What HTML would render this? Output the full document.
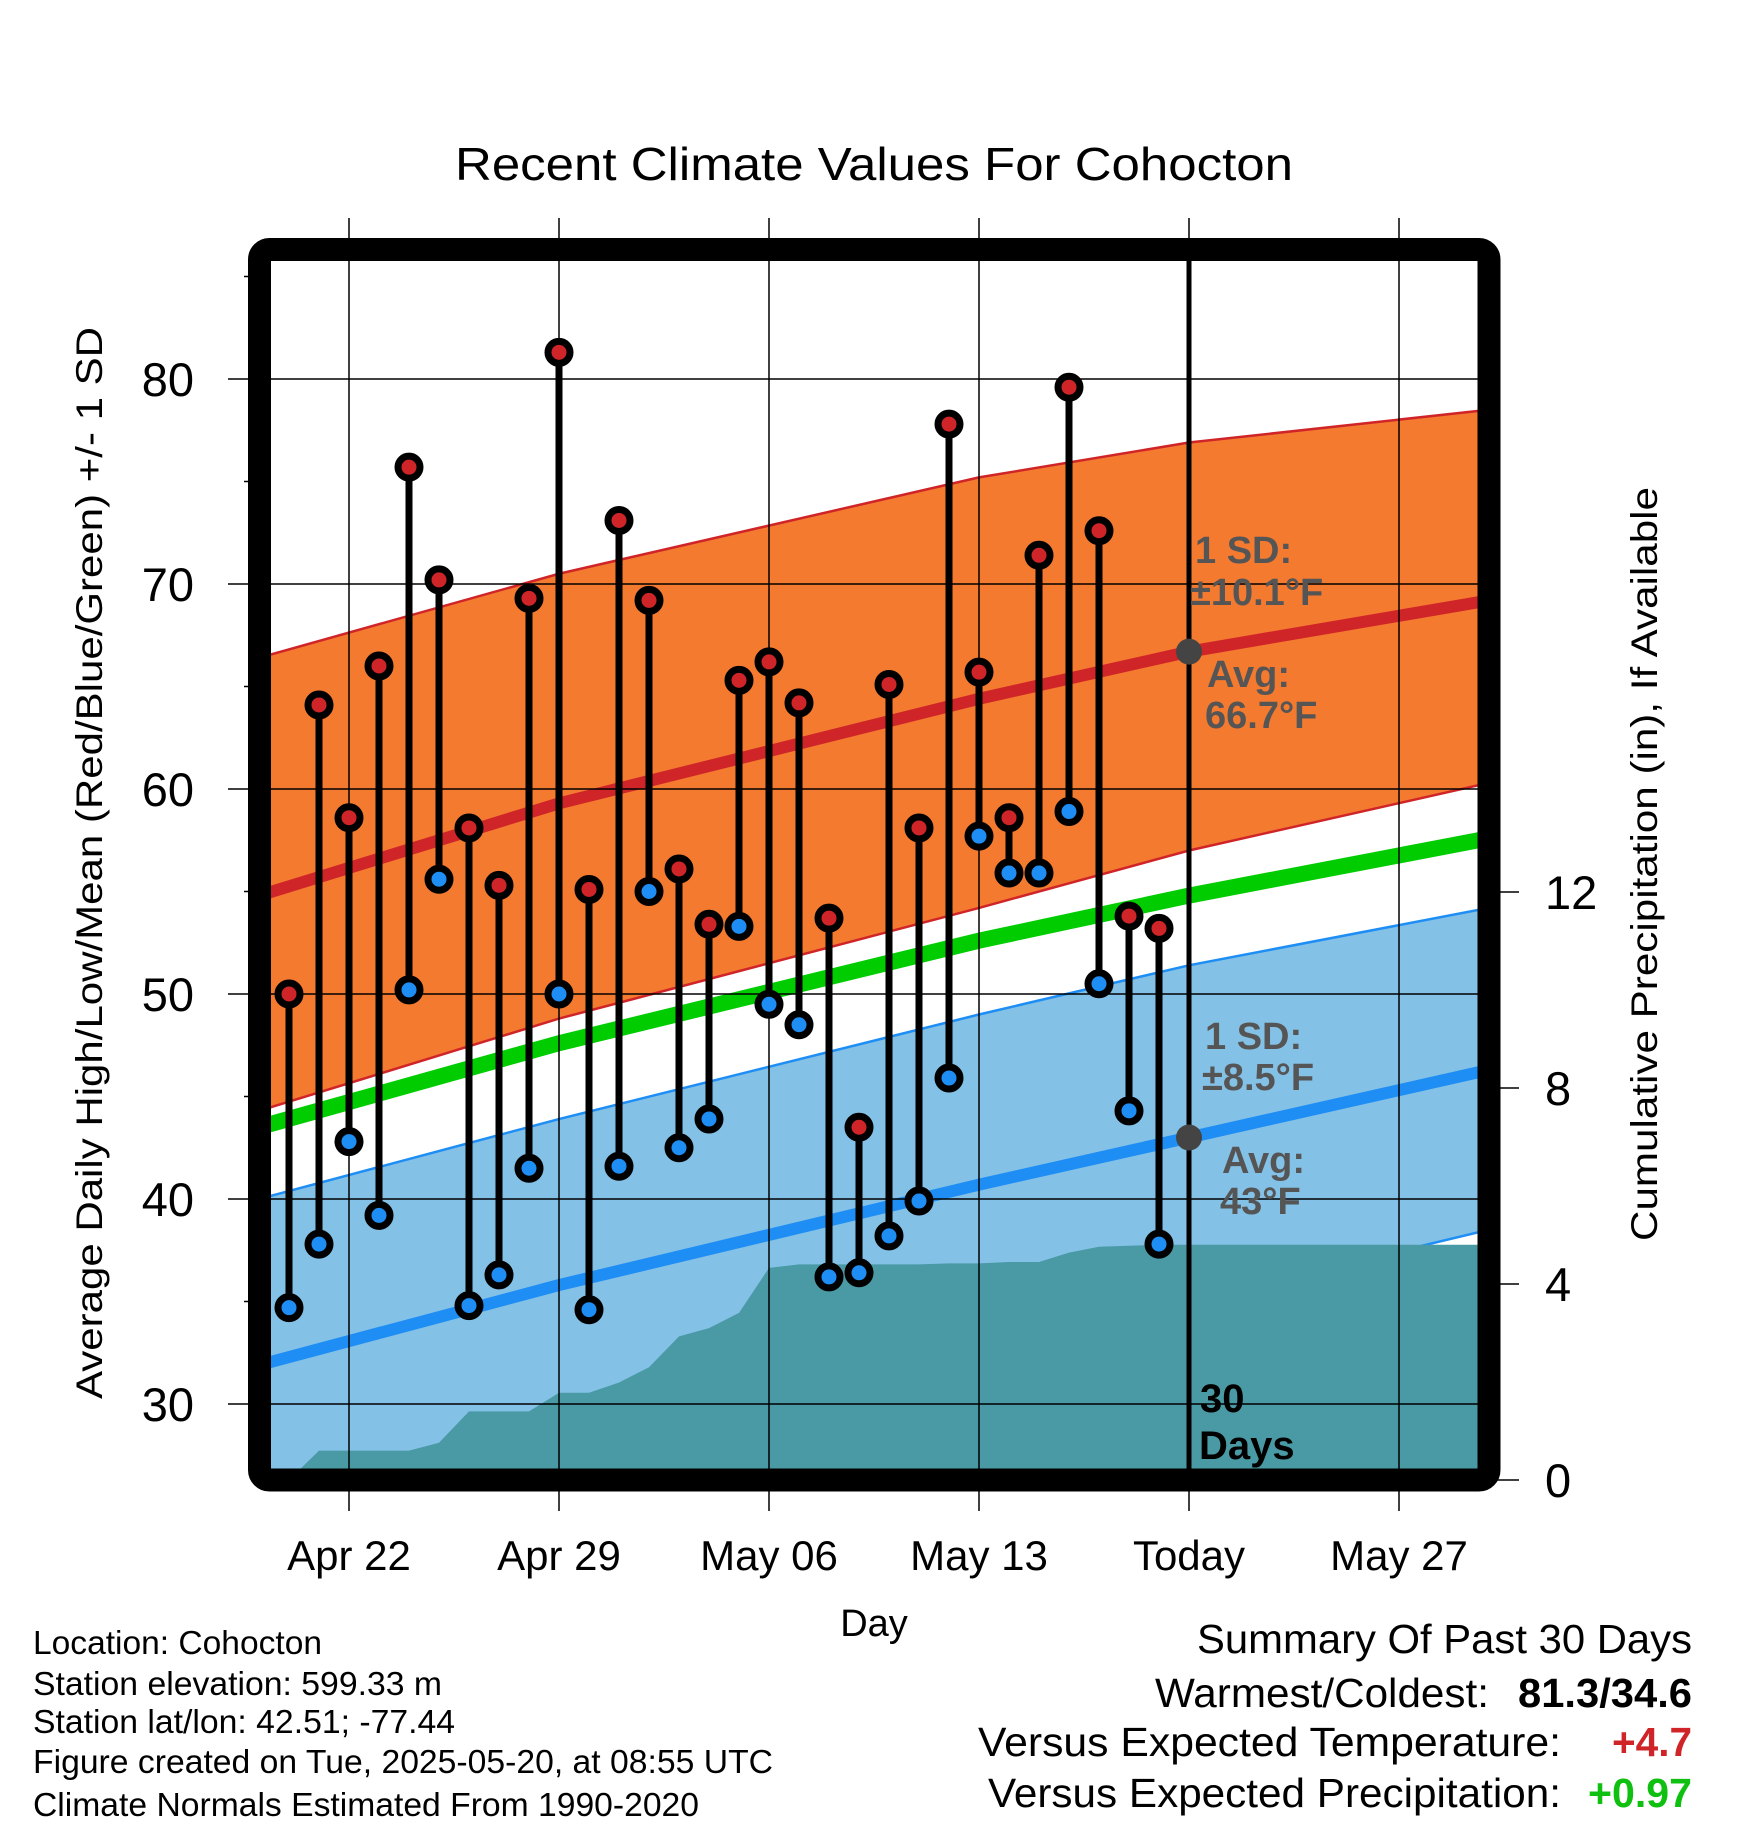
<!DOCTYPE html>
<html><head><meta charset="utf-8"><style>
body{margin:0;background:#fff}
svg{display:block;font-family:"Liberation Sans",Arial,sans-serif}
</style></head><body>
<svg id="chart" width="1748" height="1828" viewBox="0 0 1748 1828" xmlns="http://www.w3.org/2000/svg">
<defs><clipPath id="plotclip"><rect x="259.5" y="249.5" width="1229.5" height="1230.5"/></clipPath></defs>
<text x="874" y="180" font-size="46" text-anchor="middle" textLength="838" lengthAdjust="spacingAndGlyphs">Recent Climate Values For Cohocton</text>
<g id="fills" clip-path="url(#plotclip)"></g>
<g id="grid"></g>
<g id="marks" clip-path="url(#plotclip)"></g>
<rect x="259.5" y="249.5" width="1229.5" height="1230.5" rx="10" fill="none" stroke="#000" stroke-width="23"/>
<g id="axes"></g>
<text transform="translate(102,863) rotate(-90)" font-size="37" text-anchor="middle" textLength="1072" lengthAdjust="spacingAndGlyphs">Average Daily High/Low/Mean (Red/Blue/Green) +/- 1 SD</text>
<text transform="translate(1657,864) rotate(-90)" font-size="37" text-anchor="middle" textLength="754" lengthAdjust="spacingAndGlyphs">Cumulative Precipitation (in), If Available</text>
<text x="874" y="1636" font-size="38" text-anchor="middle">Day</text>
<g font-size="33" lengthAdjust="spacingAndGlyphs">
<text x="33" y="1654" textLength="289" lengthAdjust="spacingAndGlyphs">Location: Cohocton</text>
<text x="33" y="1695" textLength="409" lengthAdjust="spacingAndGlyphs">Station elevation: 599.33 m</text>
<text x="33" y="1733" textLength="422" lengthAdjust="spacingAndGlyphs">Station lat/lon: 42.51; -77.44</text>
<text x="33" y="1773" textLength="740" lengthAdjust="spacingAndGlyphs">Figure created on Tue, 2025-05-20, at 08:55 UTC</text>
<text x="33" y="1816" textLength="666" lengthAdjust="spacingAndGlyphs">Climate Normals Estimated From 1990-2020</text>
</g>
<g font-size="41" text-anchor="end">
<text x="1692" y="1653" textLength="495" lengthAdjust="spacingAndGlyphs">Summary Of Past 30 Days</text>
<text x="1489" y="1707" textLength="334" lengthAdjust="spacingAndGlyphs">Warmest/Coldest:</text>
<text x="1692" y="1707" font-weight="bold" textLength="174" lengthAdjust="spacingAndGlyphs">81.3/34.6</text>
<text x="1561" y="1756" textLength="583" lengthAdjust="spacingAndGlyphs">Versus Expected Temperature:</text>
<text x="1692" y="1756" font-weight="bold" fill="#d02528" textLength="80" lengthAdjust="spacingAndGlyphs">+4.7</text>
<text x="1561" y="1807" textLength="573" lengthAdjust="spacingAndGlyphs">Versus Expected Precipitation:</text>
<text x="1692" y="1807" font-weight="bold" fill="#10c010" textLength="104" lengthAdjust="spacingAndGlyphs">+0.97</text>
</g>
</svg>
<script>
// ---- data ----
const days = [-2,-1,0,1,2,3,4,5,6,7,8,9,10,11,12,13,14,15,16,17,18,19,20,21,22,23,24,25,26,27];
const highs = [50.0,64.1,58.6,66.0,75.7,70.2,58.1,55.3,69.3,81.3,55.1,73.1,69.2,56.1,53.4,65.3,66.2,64.2,53.7,43.5,65.1,58.1,77.8,65.7,58.6,71.4,79.6,72.6,53.8,53.2];
const lows = [34.7,37.8,42.8,39.2,50.2,55.6,34.8,36.3,41.5,50.0,34.6,41.6,55.0,42.5,43.9,53.3,49.5,48.5,36.2,36.4,38.2,39.9,45.9,57.7,55.9,55.9,58.9,50.5,44.3,37.8];
const precipCum = [0.0,0.6,0.6,0.6,0.6,0.76,1.4,1.4,1.4,1.78,1.78,1.99,2.3,2.93,3.1,3.41,4.33,4.4,4.4,4.4,4.4,4.4,4.42,4.42,4.45,4.45,4.64,4.76,4.78,4.8];
const normDays = [-3,7,21,28,38];
const normHighMean = [54.8,59.3,64.4,66.7,69.2];
const normHighUpper = [66.4,70.5,75.2,76.9,78.5];
const normHighLower = [44.3,48.8,54.2,57.0,60.3];
const normMean = [43.5,47.6,52.6,54.8,57.6];
const normLowMean = [31.9,35.8,40.7,43.0,46.3];
const normLowUpper = [40.0,43.9,49.0,51.4,54.2];
const normLowLower = [23.5,27.5,32.5,35.0,38.5];
const xTickDays = [0,7,14,21,28,35];
const xTickLabels = ["Apr 22","Apr 29","May 06","May 13","Today","May 27"];
const yTicks = [30,40,50,60,70,80];
const y2Ticks = [0,4,8,12];
const todayDay = 28;

// ---- scales ----
const X = d => 349 + 30*d;
const Y = v => 379 + (80 - v)*20.5;
const P = p => 1480 - p*49;
const NS = "http://www.w3.org/2000/svg";
function mk(tag, attrs, parent){const e=document.createElementNS(NS,tag);for(const k in attrs)e.setAttribute(k,attrs[k]);parent.appendChild(e);return e;}
const fills=document.getElementById('fills'), grid=document.getElementById('grid'), marks=document.getElementById('marks'), axes=document.getElementById('axes');
const pts = arr => normDays.map((d,i)=>X(d)+','+Y(arr[i]));
const ptsRev = arr => normDays.map((d,i)=>X(d)+','+Y(arr[i])).reverse();

let e;
e = mk('polygon',{points:pts(normLowUpper).concat(ptsRev(normLowLower)).join(' '),fill:'#84c1e6'},fills);
 
e = mk('polyline',{points:pts(normLowUpper).join(' '),fill:'none',stroke:'#1e8ef5','stroke-width':2.5},fills);
 
e = mk('polyline',{points:pts(normLowLower).join(' '),fill:'none',stroke:'#1e8ef5','stroke-width':2.5},fills);
 
e = mk('polygon',{points:pts(normHighUpper).concat(ptsRev(normHighLower)).join(' '),fill:'#f47a30'},fills);
 
e = mk('polyline',{points:pts(normHighUpper).join(' '),fill:'none',stroke:'#d02528','stroke-width':2.5},fills);
 
e = mk('polyline',{points:pts(normHighLower).join(' '),fill:'none',stroke:'#d02528','stroke-width':2.5},fills);
 
e = mk('polyline',{points:pts(normHighMean).join(' '),fill:'none',stroke:'#d02528','stroke-width':12},fills);
 
e = mk('polyline',{points:pts(normMean).join(' '),fill:'none',stroke:'#00cc00','stroke-width':16},fills);
 
e = mk('polyline',{points:pts(normLowMean).join(' '),fill:'none',stroke:'#1e8ef5','stroke-width':12},fills);
 

// precip area
let pp = ['259.5,'+P(0), '259.5,'+P(precipCum[0])];
days.forEach((d,i)=>pp.push(X(d)+','+P(precipCum[i])));
pp.push('1489,'+P(precipCum[precipCum.length-1]), '1489,'+P(0));
e = mk('polygon',{points:pp.join(' '),fill:'#4a9aa5'},fills);
 

// grid
xTickDays.forEach(d=>{
  e = mk('line',{x1:X(d),x2:X(d),y1:218,y2:1511,stroke:'#000','stroke-width':1.5},grid);
   
});
yTicks.forEach(v=>{
  e = mk('line',{x1:228,x2:1489,y1:Y(v),y2:Y(v),stroke:'#000','stroke-width':1.5},grid);
   
});
[25,35,45,55,65,75,85].forEach(v=>{
  if(Y(v)<249||Y(v)>1480) return;
  e = mk('line',{x1:244,x2:260,y1:Y(v),y2:Y(v),stroke:'#000','stroke-width':1.5},grid);
   
});
y2Ticks.forEach(p=>{
  e = mk('line',{x1:1489,x2:1519,y1:P(p),y2:P(p),stroke:'#000','stroke-width':1.5},grid);
   
});

// today line
e = mk('line',{x1:X(todayDay),x2:X(todayDay),y1:249,y2:1480,stroke:'#000','stroke-width':5},marks);
 

// stems and markers
days.forEach((d,i)=>{
  e = mk('line',{x1:X(d),x2:X(d),y1:Y(highs[i]),y2:Y(lows[i]),stroke:'#000','stroke-width':7},marks);
   
});
days.forEach((d,i)=>{
  e = mk('circle',{cx:X(d),cy:Y(highs[i]),r:11,fill:'#d02528',stroke:'#000','stroke-width':7},marks);
   
  e = mk('circle',{cx:X(d),cy:Y(lows[i]),r:11,fill:'#1e8ef5',stroke:'#000','stroke-width':7},marks);
   
});
// today avg dots
e = mk('circle',{cx:X(todayDay),cy:Y(normHighMean[3]),r:13,fill:'#444'},marks);
 
e = mk('circle',{cx:X(todayDay),cy:Y(normLowMean[3]),r:13,fill:'#444'},marks);
 

// annotations
function ann(txt,x,y,size,fill,name){
  const t = mk('text',{x:x,y:y,'font-size':size,'font-weight':'bold',fill:fill},marks);
  t.textContent = txt;
  
  
  return t;
}
ann('1 SD:',1195,563,38,'#555','high-sd-label');
ann('±10.1°F',1190,605,38,'#555','high-sd-value');
ann('Avg:',1207,687,38,'#555','high-avg-label');
ann('66.7°F',1205,728,38,'#555','high-avg-value');
ann('1 SD:',1205,1049,38,'#555','low-sd-label');
ann('±8.5°F',1202,1090,38,'#555','low-sd-value');
ann('Avg:',1222,1173,38,'#555','low-avg-label');
ann('43°F',1220,1214,38,'#555','low-avg-value');
ann('30',1200,1412,40,'#000','days-count');
ann('Days',1199,1459,40,'#000','days-label');

// axis labels
xTickDays.forEach((d,i)=>{
  e = mk('text',{x:X(d),y:1570,'font-size':42,'text-anchor':'middle'},axes);
  e.textContent = xTickLabels[i];
   
});
yTicks.forEach(v=>{
  e = mk('text',{x:194,y:Y(v)+17,'font-size':47,'text-anchor':'end'},axes);
  e.textContent = v;
   
});
y2Ticks.forEach(p=>{
  e = mk('text',{x:1545,y:P(p)+17,'font-size':47},axes);
  e.textContent = p;
   
});
</script>
</body></html>
